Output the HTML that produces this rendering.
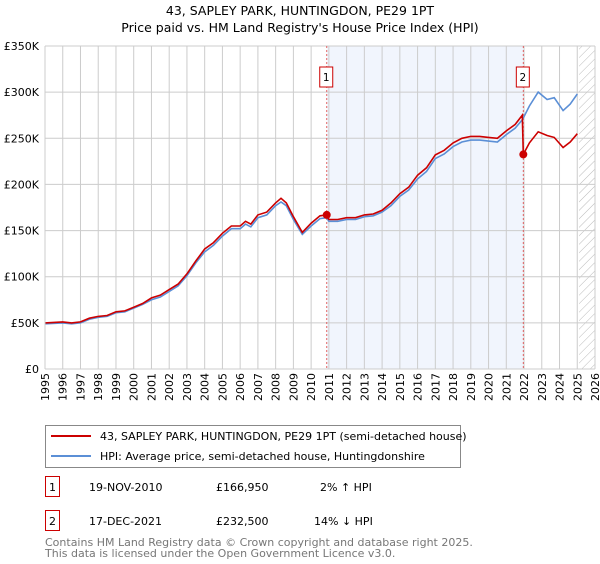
<!DOCTYPE html>
<html><head><meta charset="utf-8"><style>
body{margin:0;background:#fff;font-family:"DejaVu Sans","Liberation Sans",sans-serif;}
svg text{font-family:"DejaVu Sans","Liberation Sans",sans-serif;}
</style></head><body>
<svg width="600" height="560" id="c">
<defs><pattern id="hatch" width="6" height="6" patternUnits="userSpaceOnUse" patternTransform="rotate(45)"><line x1="0" y1="0" x2="0" y2="6" stroke="#bbb" stroke-width="1"/></pattern></defs>
<text x="300" y="15" text-anchor="middle" font-size="12.5">43, SAPLEY PARK, HUNTINGDON, PE29 1PT</text>
<text x="300" y="32" text-anchor="middle" font-size="12.5">Price paid vs. HM Land Registry's House Price Index (HPI)</text>
<g id="plot"></g>
<g>
<rect x="45.5" y="425.5" width="415" height="42" fill="#fff" stroke="#888"/>
<line x1="51" y1="436" x2="91" y2="436" stroke="#cc0000" stroke-width="2"/>
<text x="100" y="440" font-size="11">43, SAPLEY PARK, HUNTINGDON, PE29 1PT (semi-detached house)</text>
<line x1="51" y1="456" x2="91" y2="456" stroke="#5b8fd6" stroke-width="2"/>
<text x="100" y="460" font-size="11">HPI: Average price, semi-detached house, Huntingdonshire</text>
</g>
<g font-size="11">
<rect x="45.5" y="476.5" width="14" height="20" fill="#fff" stroke="#cc0000"/><text x="52.5" y="491" text-anchor="middle">1</text>
<text x="89" y="491">19-NOV-2010</text><text x="216" y="491">£166,950</text><text x="320" y="491">2% ↑ HPI</text>
<rect x="45.5" y="510.5" width="14" height="20" fill="#fff" stroke="#cc0000"/><text x="52.5" y="525" text-anchor="middle">2</text>
<text x="89" y="525">17-DEC-2021</text><text x="216" y="525">£232,500</text><text x="314" y="525">14% ↓ HPI</text>
</g>
<g font-size="11" fill="#777">
<text x="45" y="546">Contains HM Land Registry data © Crown copyright and database right 2025.</text>
<text x="45" y="557">This data is licensed under the Open Government Licence v3.0.</text>
</g>
</svg>
<script>
const years=[1995,1996,1996.5,1997,1997.5,1998,1998.5,1999,1999.5,2000,2000.5,2001,2001.5,2002,2002.5,2003,2003.5,2004,2004.5,2005,2005.5,2006,2006.3,2006.6,2007,2007.5,2008,2008.3,2008.6,2009,2009.5,2010,2010.5,2010.88,2011,2011.5,2012,2012.5,2013,2013.5,2014,2014.5,2015,2015.5,2016,2016.5,2017,2017.5,2018,2018.5,2019,2019.5,2020,2020.5,2021,2021.5,2021.9,2021.96,2022.3,2022.8,2023.3,2023.7,2024.2,2024.6,2025.0];
const priceK=[50,51,50,51,55,57,58,62,63,67,71,77,80,86,92,103,117,130,137,147,155,155,160,157,167,170,180,185,180,165,148,158,166,167,162,162,164,164,167,168,172,180,190,197,210,218,232,237,245,250,252,252,251,250,258,265,275,232.5,245,257,253,251,240,246,255];
const hpiK=[49,50,49,50,54,56,57,61,62,66,70,75,78,84,90,101,115,127,134,144,152,152,157,154,164,167,177,181,177,162,146,155,163,164,160,160,162,162,165,166,170,177,187,194,206,214,228,233,241,246,248,248,247,246,254,261,270,272,285,300,292,294,280,287,298];
const yTicks=[0,50,100,150,200,250,300,350];
const yTickLabels=["£0","£50K","£100K","£150K","£200K","£250K","£300K","£350K"];
const sales=[{n:"1",t:2010.88,v:166.95},{n:"2",t:2021.96,v:232.5}];
const NS="http://www.w3.org/2000/svg";
const X0=45,X1=595,Y0=369,Y1=46;
const xs=t=>X0+(t-1995)/(2026-1995)*(X1-X0);
const ys=v=>Y0-v/350*(Y0-Y1);
const g=document.getElementById('plot');
function mk(tag,a){const e=document.createElementNS(NS,tag);for(const k in a)e.setAttribute(k,a[k]);g.appendChild(e);return e;}
let e=mk('rect',{x:xs(sales[0].t),y:Y1,width:xs(sales[1].t)-xs(sales[0].t),height:Y0-Y1,fill:'#eef3fc',opacity:0.8});


e=mk('rect',{x:xs(2025.1),y:Y1,width:X1-xs(2025.1),height:Y0-Y1,fill:'url(#hatch)'});


for(let yr=1995;yr<=2026;yr++){
 e=mk('line',{x1:xs(yr),x2:xs(yr),y1:Y1,y2:Y0,stroke:'#ccc','stroke-width':1});
 
 
 const tx=mk('text',{x:0,y:0,'font-size':11,'text-anchor':'end',transform:`translate(${xs(yr)+4},${Y0+4}) rotate(-90)`});
 tx.textContent=yr;
 
 
}
yTicks.forEach((v,i)=>{
 e=mk('line',{x1:X0,x2:X1,y1:ys(v),y2:ys(v),stroke:'#ccc','stroke-width':1});
 
 
 const tx=mk('text',{x:X0-6,y:ys(v)+4,'font-size':11,'text-anchor':'end'});
 tx.textContent=yTickLabels[i];
 
 
});
sales.forEach(s=>{
 e=mk('line',{x1:xs(s.t),x2:xs(s.t),y1:Y1,y2:Y0,stroke:'#e06060','stroke-width':1,'stroke-dasharray':'2,2'});
 
 
 e=mk('rect',{x:xs(s.t)-7,y:67,width:13,height:20,fill:'#fff',stroke:'#cc0000'});
 
 
 const tx=mk('text',{x:xs(s.t)-0.5,y:81,'font-size':10.5,'text-anchor':'middle'});
 tx.textContent=s.n;
 
 
});
const path=arr=>arr.map((v,i)=>(i?'L':'M')+xs(years[i]).toFixed(1)+','+ys(v).toFixed(1)).join('');
e=mk('path',{d:path(hpiK),fill:'none',stroke:'#5b8fd6','stroke-width':1.6});


e=mk('path',{d:path(priceK),fill:'none',stroke:'#cc0000','stroke-width':1.6});


sales.forEach(s=>{
 e=mk('circle',{cx:xs(s.t),cy:ys(s.v),r:4,fill:'#cc0000'});
 
 
});
e=mk('line',{x1:X0,x2:X0,y1:Y1,y2:Y0,stroke:'#ccc'});


</script>
</body></html>
